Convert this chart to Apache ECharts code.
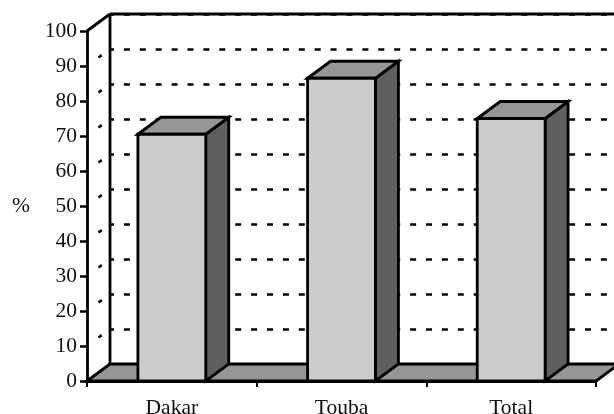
<!DOCTYPE html>
<html>
<head>
<meta charset="utf-8">
<style>html,body{margin:0;padding:0;background:#fff}#chart{width:614px;height:414px}</style>
<script src="https://cdn.jsdelivr.net/npm/echarts@6/dist/echarts.min.js"></script>
</head>
<body>
<div id="chart"></div>
<script>
// Share of respondents per site, in percent
const categories = ['Dakar', 'Touba', 'Total'];
const values = [70.5, 86.5, 75];
const wallTicks = [10, 20, 30, 40, 50, 60, 70, 80, 90];

// Pseudo-3D depth of the chart box
const depthX = 23;
const depthY = -17;
const ink = '#000';
const strokeWidth = 2.8;
const fontFamily = '"Liberation Serif", "Times New Roman", serif';

function renderBox(params, api) {
  const c = params.coordSys;
  const left = c.x, right = c.x + c.width, top = c.y, bottom = c.y + c.height;
  return {
    type: 'group',
    children: [
      { type: 'polygon',
        shape: { points: [[left, bottom], [left + depthX, bottom + depthY], [right + depthX, bottom + depthY], [right, bottom]] },
        style: { fill: '#969696', stroke: ink, lineWidth: strokeWidth } },
      { type: 'line',
        shape: { x1: left, y1: top, x2: left + depthX, y2: top + depthY },
        style: { stroke: ink, lineWidth: strokeWidth } },
      { type: 'line',
        shape: { x1: left + depthX, y1: top + depthY, x2: right + depthX, y2: top + depthY },
        style: { stroke: ink, lineWidth: strokeWidth } },
      { type: 'line',
        shape: { x1: left + depthX, y1: top + depthY, x2: left + depthX, y2: bottom + depthY },
        style: { stroke: ink, lineWidth: strokeWidth } }
    ]
  };
}

// Short visible piece of the dashed gridline crossing the side wall
function renderWallDash(params, api) {
  const p = api.coord([0, api.value(0)]);
  const x = params.coordSys.x;
  return {
    type: 'line',
    shape: { x1: x + depthX * 0.5, y1: p[1] + depthY * 0.5, x2: x + depthX * 0.64, y2: p[1] + depthY * 0.64 },
    style: { stroke: ink, lineWidth: 2.5 }
  };
}

function renderBar(params, api) {
  const base = api.coord([api.value(0), 0]);
  const tip = api.coord([api.value(0), api.value(1)]);
  const w = api.size([1, 0])[0] * 0.4;
  const x0 = base[0] - w / 2, x1 = base[0] + w / 2;
  const yb = base[1], yt = tip[1];
  const line = { stroke: ink, lineWidth: strokeWidth, lineJoin: 'miter' };
  return {
    type: 'group',
    children: [
      { type: 'polygon',
        shape: { points: [[x1, yt], [x1 + depthX, yt + depthY], [x1 + depthX, yb + depthY], [x1, yb]] },
        style: Object.assign({ fill: '#5f5f5f' }, line) },
      { type: 'polygon',
        shape: { points: [[x0, yt], [x0 + depthX, yt + depthY], [x1 + depthX, yt + depthY], [x1, yt]] },
        style: Object.assign({ fill: '#969696' }, line) },
      { type: 'rect',
        shape: { x: x0, y: yt, width: w, height: yb - yt },
        style: Object.assign({ fill: '#cccccc' }, line) }
    ]
  };
}

const chart = echarts.init(document.getElementById('chart'), null, { renderer: 'canvas' });
chart.setOption({
  animation: false,
  backgroundColor: '#fff',
  grid: [
    { left: 87, top: 31, width: 509, height: 350, outerBoundsMode: 'none' },
    { left: 87 + depthX, top: 31 + depthY, width: 509, height: 350, outerBoundsMode: 'none' }
  ],
  xAxis: [
    { type: 'category', data: categories, gridIndex: 0, boundaryGap: true,
      axisLine: { show: true, lineStyle: { color: ink, width: strokeWidth } },
      axisTick: { show: true, length: 6, alignWithLabel: false, lineStyle: { color: ink, width: 2 } },
      axisLabel: { color: '#111', fontFamily, fontSize: 21.5, margin: 16 } },
    { type: 'category', data: categories, gridIndex: 1, show: false }
  ],
  yAxis: [
    { type: 'value', gridIndex: 0, min: 0, max: 100, interval: 10,
      name: '%', nameLocation: 'middle', nameRotate: 0, nameGap: 57,
      nameTextStyle: { color: '#111', fontFamily, fontSize: 21.5 },
      axisLine: { show: true, lineStyle: { color: ink, width: strokeWidth } },
      axisTick: { show: true, length: 7, lineStyle: { color: ink, width: 2.5 } },
      axisLabel: { color: '#111', fontFamily, fontSize: 21.5, margin: 10, padding: [2, 0, 0, 0] },
      splitLine: { show: false } },
    { type: 'value', gridIndex: 1, min: 0, max: 100, interval: 10,
      axisLine: { show: false }, axisTick: { show: false }, axisLabel: { show: false },
      splitLine: { show: true, lineStyle: { color: ink, width: 2.5, type: [6, 9.9], dashOffset: 2 } } }
  ],
  series: [
    { type: 'custom', xAxisIndex: 0, yAxisIndex: 0, z: 2, silent: true, clip: false,
      data: [0], renderItem: renderBox },
    { type: 'custom', xAxisIndex: 0, yAxisIndex: 0, z: 3, silent: true, clip: false,
      data: wallTicks, encode: { y: 0 }, renderItem: renderWallDash },
    { type: 'custom', xAxisIndex: 0, yAxisIndex: 0, z: 4, silent: true, clip: false,
      data: values.map((v, i) => [i, v]), encode: { x: 0, y: 1 }, renderItem: renderBar }
  ]
});
</script>
</body>
</html>
